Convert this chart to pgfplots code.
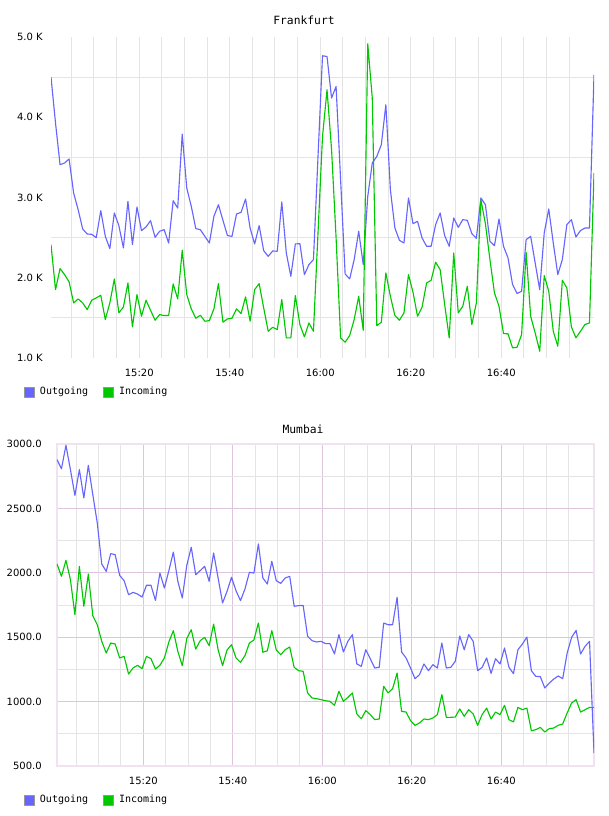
\documentclass[border=0pt]{standalone}
\usepackage{fontspec}
\setmainfont{DejaVu Sans}
\newfontfamily\monofont{DejaVu Sans Mono}
\usepackage{pgfplots}
\usepackage{pgfplotstable}
\pgfplotsset{compat=1.18}
\definecolor{outc}{RGB}{102,102,255}
\definecolor{inc}{RGB}{0,200,0}
\definecolor{gridgray}{RGB}{228,228,228}
\definecolor{gridpurple}{RGB}{222,196,222}
\definecolor{framepurple}{RGB}{240,226,240}
\definecolor{legborder}{RGB}{150,150,150}

% Frankfurt, one value per minute
\pgfplotstableread[row sep=\\]{y\\4500\\3927\\3409\\3430\\3480\\3056\\2848\\2608\\2545\\2541\\2500\\2836\\2516\\2363\\2807\\2649\\2371\\2952\\2413\\2882\\2587\\2633\\2711\\2504\\2579\\2599\\2433\\2960\\2869\\3790\\3118\\2890\\2612\\2599\\2516\\2433\\2765\\2910\\2715\\2525\\2516\\2794\\2815\\2981\\2620\\2421\\2649\\2338\\2267\\2334\\2330\\2944\\2309\\2018\\2421\\2425\\2039\\2164\\2226\\3500\\4766\\4757\\4239\\4384\\3222\\2047\\1985\\2226\\2579\\2164\\3014\\3429\\3512\\3658\\4156\\3097\\2620\\2466\\2433\\2994\\2674\\2703\\2496\\2392\\2392\\2662\\2807\\2525\\2392\\2745\\2628\\2724\\2715\\2550\\2491\\2994\\2910\\2454\\2400\\2732\\2392\\2247\\1915\\1803\\1832\\2475\\2516\\2184\\1852\\2558\\2857\\2433\\2039\\2226\\2662\\2724\\2508\\2587\\2620\\2620\\4529\\}\frout
\pgfplotstableread[row sep=\\]{y\\2412\\1852\\2114\\2039\\1948\\1686\\1736\\1686\\1603\\1720\\1749\\1782\\1479\\1686\\1985\\1562\\1636\\1935\\1388\\1790\\1520\\1720\\1595\\1471\\1541\\1529\\1529\\1923\\1736\\2342\\1790\\1612\\1495\\1533\\1458\\1466\\1612\\1927\\1446\\1487\\1495\\1612\\1554\\1761\\1458\\1852\\1927\\1624\\1333\\1383\\1354\\1728\\1251\\1251\\1778\\1417\\1263\\1437\\1333\\2550\\3760\\4342\\3600\\2500\\1251\\1197\\1280\\1479\\1769\\1346\\4915\\4239\\1404\\1446\\2060\\1769\\1529\\1471\\1562\\2039\\1819\\1520\\1632\\1935\\1968\\2193\\2101\\1666\\1251\\2309\\1562\\1645\\1894\\1417\\1686\\2973\\2674\\2226\\1811\\1645\\1305\\1301\\1126\\1134\\1292\\2317\\1520\\1313\\1084\\2027\\1832\\1333\\1147\\1968\\1873\\1388\\1251\\1333\\1417\\1437\\3305\\}\frin
% Mumbai
\pgfplotstableread[row sep=\\]{y\\2878\\2808\\2990\\2801\\2601\\2801\\2581\\2834\\2607\\2387\\2068\\2011\\2149\\2141\\1980\\1939\\1830\\1848\\1835\\1812\\1903\\1903\\1786\\1998\\1882\\2017\\2161\\1934\\1804\\2058\\2198\\1985\\2017\\2050\\1934\\2154\\1960\\1766\\1856\\1965\\1861\\1784\\1874\\2004\\1998\\2224\\1960\\1913\\2089\\1939\\1918\\1960\\1973\\1740\\1745\\1747\\1507\\1473\\1463\\1468\\1450\\1450\\1370\\1520\\1385\\1468\\1520\\1292\\1274\\1403\\1333\\1261\\1266\\1610\\1597\\1597\\1810\\1385\\1339\\1261\\1178\\1209\\1292\\1240\\1287\\1261\\1455\\1261\\1266\\1313\\1509\\1403\\1520\\1468\\1240\\1266\\1339\\1219\\1333\\1292\\1416\\1266\\1217\\1403\\1447\\1501\\1240\\1196\\1194\\1106\\1144\\1175\\1199\\1178\\1377\\1499\\1553\\1370\\1429\\1468\\601\\}\muout
\pgfplotstableread[row sep=\\]{y\\2068\\1973\\2097\\1947\\1675\\2050\\1740\\1991\\1667\\1597\\1468\\1377\\1455\\1447\\1339\\1351\\1214\\1261\\1282\\1256\\1351\\1333\\1253\\1282\\1339\\1463\\1551\\1390\\1279\\1489\\1558\\1408\\1473\\1499\\1434\\1602\\1403\\1279\\1401\\1442\\1339\\1305\\1357\\1455\\1478\\1610\\1383\\1395\\1551\\1401\\1364\\1403\\1424\\1266\\1240\\1235\\1067\\1028\\1023\\1015\\1007\\1002\\971\\1080\\1002\\1033\\1067\\904\\867\\930\\899\\860\\865\\1119\\1067\\1101\\1222\\924\\919\\852\\816\\834\\865\\860\\873\\899\\1054\\878\\878\\880\\943\\886\\937\\904\\816\\899\\950\\865\\919\\899\\971\\860\\842\\955\\937\\950\\774\\782\\800\\764\\790\\795\\816\\826\\912\\989\\1015\\919\\937\\955\\955\\}\muin

\pgfplotsset{
  common/.style={
    scale only axis,
    anchor=north west,
    tick style={draw=none},
    major tick length=0pt, minor tick length=0pt,
    ticklabel style={font=\fontsize{7.5}{9}\selectfont, inner sep=0pt},
    xticklabel style={anchor=center, yshift=-11.25pt},
    yticklabel style={anchor=east, xshift=-6pt},
    xtick={20,40,60,80,100},
    xticklabels={15:20,15:40,16:00,16:20,16:40},
    title style={font=\monofont\fontsize{8.5}{10}\selectfont, anchor=center, inner sep=0pt},
    legend style={draw=none, fill=none, inner sep=0pt, outer sep=0pt,
      font=\monofont\fontsize{7.5}{9}\selectfont, legend columns=2, anchor=west,
      nodes={inner sep=0pt},
      /tikz/every even column/.append style={column sep=11.25pt}},
    legend cell align=left,
    minor grid style={gridgray, line width=0.75pt},
    major grid style={gridpurple, line width=0.75pt},
  },
  outline/.style={outc, line width=0.85pt, mark=none, line join=round,
    legend image code/.code={\draw[draw=legborder, fill=outc, line width=0.6pt] (0pt,-3.75pt) rectangle (7.5pt,3.75pt); \path (11.25pt,0pt);}},
  inline/.style={inc, line width=0.85pt, mark=none, line join=round,
    legend image code/.code={\draw[draw=legborder, fill=inc, line width=0.6pt] (0pt,-3.75pt) rectangle (7.5pt,3.75pt); \path (11.25pt,0pt);}},
}

\begin{document}
\begin{tikzpicture}
\useasboundingbox (0pt,0pt) rectangle (456pt,-612pt);
\begin{axis}[common,
  at={(38.25pt,-27.75pt)},
  width=407.25pt, height=240.75pt,
  xmin=0.5, xmax=120.5, ymin=1000, ymax=5000,
  axis line style={draw=none},
  ytick={1000,2000,3000,4000,5000},
  yticklabels={1.0 K,2.0 K,3.0 K,4.0 K,5.0 K},
  minor xtick={5,10,...,115},
  minor ytick={1500,2500,3500,4500},
  xminorgrids, yminorgrids,
  title={Frankfurt},
  title style={at={(axis description cs:0.4659,1.028)}},
  legend style={at={(axis description cs:-0.0497,-0.1059)}},
]
\addplot[outline] table[x expr=\coordindex+0.5, y=y]{\frout};
\addlegendentry{Outgoing}
\addplot[inline] table[x expr=\coordindex+0.5, y=y]{\frin};
\addlegendentry{Incoming}
\end{axis}

\begin{axis}[common,
  at={(42.75pt,-333pt)},
  width=402.75pt, height=241.5pt,
  xmin=0.7, xmax=120.7, ymin=500, ymax=3000,
  axis line style={draw=framepurple, line width=1.5pt},
  ytick={500,1000,1500,2000,2500,3000},
  yticklabels={500.0,1000.0,1500.0,2000.0,2500.0,3000.0},
  yticklabel style={xshift=-5.25pt},
  minor xtick={5,10,15,25,30,35,45,50,55,65,70,75,85,90,95,105,110,115},
  minor ytick={750,1250,1750,2250,2750},
  xminorgrids, yminorgrids, xmajorgrids, ymajorgrids,
  title={Mumbai},
  title style={at={(axis description cs:0.4581,1.0217)}},
  legend style={at={(axis description cs:-0.06145,-0.1056)}},
]
\addplot[outline] table[x expr=\coordindex+0.7, y=y]{\muout};
\addlegendentry{Outgoing}
\addplot[inline] table[x expr=\coordindex+0.7, y=y]{\muin};
\addlegendentry{Incoming}
\end{axis}
\end{tikzpicture}
\end{document}
